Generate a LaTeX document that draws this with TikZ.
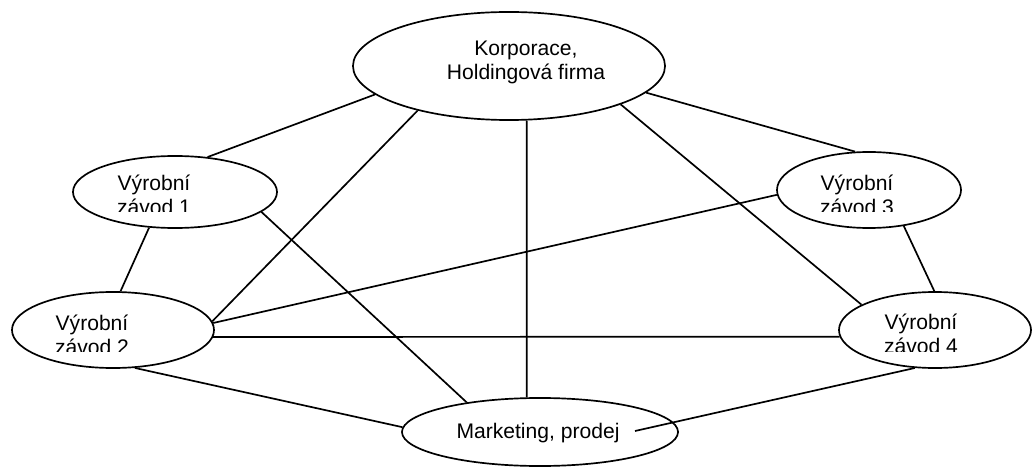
\documentclass[tikz,border=0pt]{standalone}
\usepackage{fontspec}
\setmainfont{Liberation Sans}
\usetikzlibrary{shapes.geometric}

\begin{document}
\begin{tikzpicture}[
    x=0.025cm, y=-0.025cm,
    unit/.style={ellipse, draw=black, line width=1.2pt, inner sep=0pt},
    unittext/.style={inner sep=0pt, align=center, font=\fontsize{15}{17}\selectfont},
    link/.style={line width=1.2pt, color=black}
]
\useasboundingbox (0,0) rectangle (1033,472);

% Define organisation units
\node [unit, minimum width=7.8cm, minimum height=2.7cm] (corp) at (509,66) {};
\node [unit, minimum width=5.1cm, minimum height=1.8cm] (plant1) at (175,192) {};
\node [unit, minimum width=5.05cm, minimum height=1.9cm] (plant2) at (113,330) {};
\node [unit, minimum width=4.6cm, minimum height=1.9cm] (plant3) at (869,190) {};
\node [unit, minimum width=4.8cm, minimum height=1.9cm] (plant4) at (935,330) {};
\node [unit, minimum width=6.9cm, minimum height=1.7cm] (sales) at (540,432) {};

% Texts of the units (lower lines cut off)
\node [unittext] (corptext) at (526,62.6) {Korporace,\\Holdingová firma};
\begin{scope}
  \clip (90,165) rectangle (220,212);
  \node [unittext, anchor=north] (plant1text) at (154,174.5) {Výrobní\\závod 1};
\end{scope}
\begin{scope}
  \clip (30,305) rectangle (160,351);
  \node [unittext, anchor=north] (plant2text) at (92,314.5) {Výrobní\\závod 2};
\end{scope}
\begin{scope}
  \clip (790,165) rectangle (930,212);
  \node [unittext, anchor=north] (plant3text) at (857,174.5) {Výrobní\\závod 3};
\end{scope}
\begin{scope}
  \clip (850,305) rectangle (990,351);
  \node [unittext, anchor=north] (plant4text) at (921,313.5) {Výrobní\\závod 4};
\end{scope}
\node [unittext, anchor=base] (salestext) at (538,438) {Marketing, prodej};

% Links from the corporation
\draw [link] (corp.192.4) -- (plant1.47.2);
\draw [link] (corp.206.3) -- (plant2.5.4);
\draw [link] (corp.288.4) -- (sales.111.5);
\draw [link] (corp.-19.7) -- (plant4.161.3);
\draw [link] (corp.-11) -- (plant3.110.2);

% Links between the plants and sales
\draw [link] (plant1.234.5) -- (plant2.79.6);
\draw [link] (plant1.-13.2) -- (sales.158.3);
\draw [link] (plant3.183.7) -- (plant2.4.5);
\draw [link] (plant2.-4.5) -- (plant4.184.8);
\draw [link] (plant3.-46.5) -- (plant4.91.5);
\draw [link] (plant2.-60) -- (sales.178.3);
\coordinate (salesend) at (635,431);
\draw [link] (plant4.242.8) -- (salesend);

\end{tikzpicture}
\end{document}
